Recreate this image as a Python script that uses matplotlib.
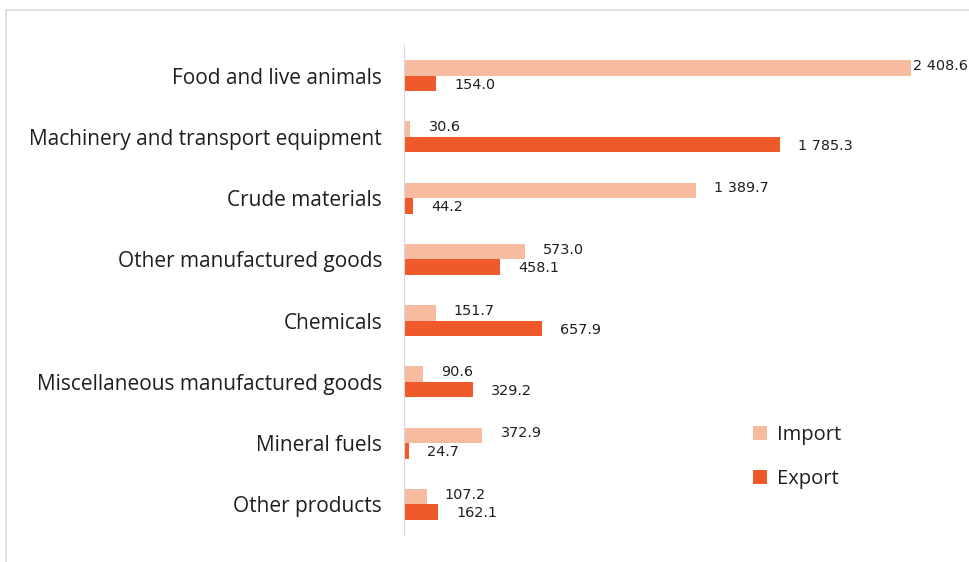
import matplotlib
matplotlib.use("Agg")
import matplotlib.pyplot as plt
from matplotlib.lines import Line2D
import numpy as np

categories = ["Food and live animals", "Machinery and transport equipment", "Crude materials",
              "Other manufactured goods", "Chemicals", "Miscellaneous manufactured goods",
              "Mineral fuels", "Other products"]
imports = [2408.6, 30.6, 1389.7, 573.0, 151.7, 90.6, 372.9, 107.2]
exports = [154.0, 1785.3, 44.2, 458.1, 657.9, 329.2, 24.7, 162.1]
series_names = ["Import", "Export"]
colors = ["#F7BC9F", "#F05A2A"]

plt.rcParams['font.family'] = ['Open Sans', 'DejaVu Sans']

W, H = 970, 562
fig = plt.figure(figsize=(W/100, H/100), dpi=100)
ax = fig.add_axes([404/W, 1-535/H, (951-404)/W, 490/H])

y = np.arange(len(categories))
bh = 0.255
ax.barh(y - bh/2, imports, height=bh, color=colors[0], label=series_names[0])
ax.barh(y + bh/2, exports, height=bh, color=colors[1], label=series_names[1])

ax.set_ylim(len(categories) - 0.5, -0.5)
ax.set_xlim(0, 2600)
ax.set_yticks(y)
ax.set_yticklabels(categories, fontsize=15, color="#1F1F1F")
ax.tick_params(axis='y', length=0, pad=15.8)
ax.set_xticks([])
for s in ["top", "right", "bottom"]:
    ax.spines[s].set_visible(False)
ax.spines["left"].set_color("#D9D9D9")

def fmt(v):
    return f"{v:,.1f}".replace(",", " ")

vmax = max(imports)
for i, (a, b) in enumerate(zip(imports, exports)):
    for val, yy in ((a, i - bh/2 - 0.03), (b, i + bh/2 + 0.02)):
        off = 2 if val == vmax else 18
        ax.annotate(fmt(val), (val, yy), xytext=(off, 0), textcoords="offset pixels",
                    va="center", ha="left", fontsize=10.4, color="#1F1F1F",
                    family="DejaVu Sans")

leg = ax.legend(loc="upper left", bbox_to_anchor=((745-404)/(951-404), 1-(417-45)/490),
                frameon=False, fontsize=14.5, handlelength=0.7, handleheight=0.7,
                handletextpad=0.5, labelspacing=1.2, borderaxespad=0)
for t in leg.get_texts():
    t.set_color("#1F1F1F")

fig.add_artist(Line2D([6/W, 6/W], [0, 1-10/H], transform=fig.transFigure, color="#D9D9D9", lw=1.2))
fig.add_artist(Line2D([6/W, 1], [1-10/H, 1-10/H], transform=fig.transFigure, color="#D9D9D9", lw=1.2))

fig.savefig("out.png", dpi=100)
